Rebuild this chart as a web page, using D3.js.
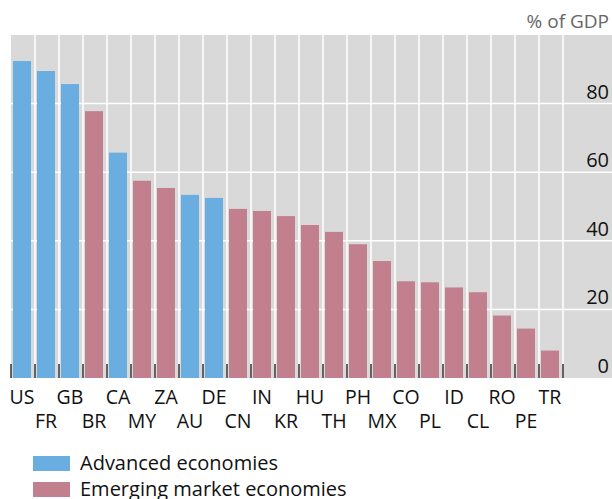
<!DOCTYPE html>
<html>
<head>
<meta charset="utf-8">
<script src="https://d3js.org/d3.v7.min.js"></script>
<style>
    body { margin: 0; background: #ffffff; }
    text { font-family: "Open Sans", "Noto Sans", sans-serif; }
</style>
</head>
<body>
<script>
//wrap everything in a self-executing anonymous function to move to local scope
(function(){

//pseudo-global variables
var countries = ["US", "FR", "GB", "BR", "CA", "MY", "ZA", "AU", "DE", "CN", "IN", "KR",
    "HU", "TH", "PH", "MX", "CO", "PL", "ID", "CL", "RO", "PE", "TR"];
var values = [92.4, 89.5, 85.7, 77.8, 65.7, 57.5, 55.4, 53.4, 52.5, 49.3, 48.7, 47.2,
    44.6, 42.6, 39.0, 34.1, 28.2, 27.9, 26.4, 25.0, 18.2, 14.4, 8.0];
var advanced = ["US", "FR", "GB", "CA", "AU", "DE"]; //everything else is emerging
var yTicks = [0, 20, 40, 60, 80];
var legendLabels = ["Advanced economies", "Emerging market economies"];
var unitLabel = "% of GDP";

var colors = {adv: "#69ade1", eme: "#c27f8e"};

window.onload = setChart();

function setChart(){
    //chart frame dimensions
    var width = 612,
        height = 499;

    var svg = d3.select("body")
        .append("svg")
        .attr("width", width)
        .attr("height", height);

    //scales
    var x = d3.scaleBand()
        .domain(countries)
        .range([11, 563]);

    var y = d3.scaleLinear()
        .domain([0, 100])
        .range([378, 35]);

    //grey plot background
    svg.append("rect")
        .attr("x", 11)
        .attr("y", y(100))
        .attr("width", width - 11)
        .attr("height", y(0) - y(100))
        .style("fill", "#d9d9d9");

    //horizontal gridlines
    svg.selectAll(".hGrid")
        .data(yTicks.filter(function(d){ return d > 0; }))
        .enter()
        .append("line")
        .attr("class", "hGrid")
        .attr("x1", 11)
        .attr("x2", width)
        .attr("y1", function(d){ return y(d); })
        .attr("y2", function(d){ return y(d); })
        .style("stroke", "#ffffff")
        .style("stroke-width", 1.5);

    //vertical gridlines at category boundaries
    var bounds = countries.map(function(c){ return x(c) + x.bandwidth(); });
    svg.selectAll(".vGrid")
        .data(bounds)
        .enter()
        .append("line")
        .attr("class", "vGrid")
        .attr("x1", function(d){ return d; })
        .attr("x2", function(d){ return d; })
        .attr("y1", y(100))
        .attr("y2", y(0))
        .style("stroke", "#ffffff")
        .style("stroke-width", 1.5);

    //bars
    svg.selectAll(".bars")
        .data(countries)
        .enter()
        .append("rect")
        .attr("class", "bars")
        .attr("x", function(d){ return x(d) + 2; })
        .attr("width", x.bandwidth() * 0.75)
        .attr("y", function(d, i){ return y(values[i]); })
        .attr("height", function(d, i){ return y(0) - y(values[i]); })
        .style("fill", function(d){
            return advanced.indexOf(d) > -1 ? colors.adv : colors.eme;
        });

    //small black ticks along the bottom
    svg.selectAll(".xTicks")
        .data([x.range()[0]].concat(bounds))
        .enter()
        .append("line")
        .attr("class", "xTicks")
        .attr("x1", function(d){ return d; })
        .attr("x2", function(d){ return d; })
        .attr("y1", y(0) - 14)
        .attr("y2", y(0))
        .style("stroke", "#000000")
        .style("stroke-width", 1.2);

    //category labels on two alternating rows
    svg.selectAll(".xLabels")
        .data(countries)
        .enter()
        .append("text")
        .attr("class", "xLabels")
        .attr("x", function(d){ return x(d) + x.bandwidth() / 2 - 1; })
        .attr("y", function(d, i){ return i % 2 == 0 ? 404 : 428; })
        .attr("text-anchor", "middle")
        .style("font-size", "19.5px")
        .style("fill", "#111111")
        .text(function(d){ return d; });

    //y axis labels on the right, sitting above the gridlines
    svg.selectAll(".yLabels")
        .data(yTicks)
        .enter()
        .append("text")
        .attr("class", "yLabels")
        .attr("x", 609)
        .attr("y", function(d){ return y(d) - 5; })
        .attr("text-anchor", "end")
        .style("font-size", "20px")
        .style("fill", "#111111")
        .text(function(d){ return d; });

    //unit label
    svg.append("text")
        .attr("x", 609)
        .attr("y", 28)
        .attr("text-anchor", "end")
        .style("font-size", "19px")
        .style("fill", "#666666")
        .text(unitLabel);

    //legend
    var legend = svg.selectAll(".legend")
        .data(legendLabels)
        .enter()
        .append("g")
        .attr("class", "legend")
        .attr("transform", function(d, i){ return "translate(33," + (456 + i * 26) + ")"; });

    legend.append("rect")
        .attr("width", 37)
        .attr("height", 15)
        .style("fill", function(d, i){ return i == 0 ? colors.adv : colors.eme; });

    legend.append("text")
        .attr("x", 47)
        .attr("y", 14)
        .style("font-size", "20px")
        .style("fill", "#111111")
        .text(function(d){ return d; });
};
})();
</script>
</body>
</html>
